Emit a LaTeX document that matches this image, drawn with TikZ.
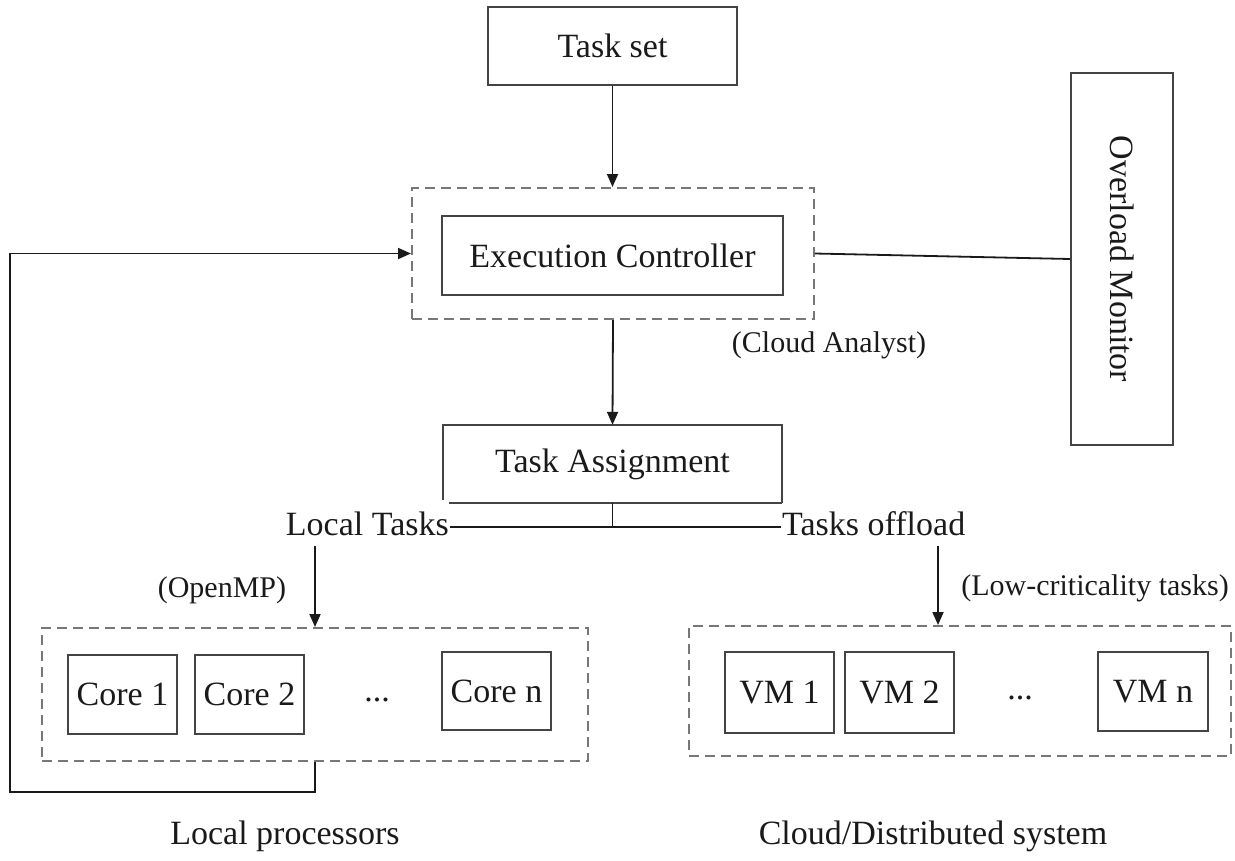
\documentclass[tikz,border=0pt]{standalone}
\usepackage{fontspec}
\setmainfont{Liberation Serif}
\usetikzlibrary{arrows.meta,calc}
\definecolor{edgegray}{HTML}{444444}
\definecolor{dashgray}{HTML}{777777}
\definecolor{inkgray}{HTML}{1A1A1A}
\tikzset{
  big/.style={font=\fontsize{34}{39}\selectfont, text=inkgray},
  small/.style={font=\fontsize{30}{34}\selectfont, text=inkgray},
  blk/.style={draw=edgegray, line width=1.8pt, rectangle, inner sep=0pt, big},
  grp/.style={draw=dashgray, line width=2pt, dash pattern=on 10pt off 6pt, rectangle, inner sep=0pt},
  lbl/.style={inner sep=0pt},
  wire/.style={draw=inkgray, line width=1.8pt},
  edge/.style={draw=edgegray, line width=1.8pt},
  arr/.style={wire, -{Triangle[length=13pt,width=11pt]}},
}
\begin{document}
\begin{tikzpicture}[x=1pt,y=-1pt]
\useasboundingbox (0,0) rectangle (1235,860);

% top chain
\node[blk, minimum width=249pt, minimum height=78pt] (taskset) at (612.5,46) {Task set};
\node[grp, minimum width=402pt, minimum height=131pt] (ecdash) at (613,253.5) {};
\node[blk, minimum width=341pt, minimum height=79pt] (ec) at (612.5,255.5) {Execution Controller};
\node[small, lbl] (analyst) at (829,345) {(Cloud Analyst)};
\node[blk, minimum width=102pt, minimum height=372pt] (overload) at (1122,259) {};
\node[big, rotate=-90] (overloadtxt) at (overload.center) {Overload Monitor};

% task assignment box: its left side stops just short of the bottom rule
\node[big, inner sep=0pt, minimum width=339pt, minimum height=78pt] (ta) at (612.5,464) {Task Assignment};
\draw[edge] ([yshift=3pt]ta.south west) -- (ta.north west) -- (ta.north east) -- (ta.south east);
\draw[edge] ([xshift=6pt]ta.south west) -- (ta.south east);

% split of the task stream
\coordinate (jn) at (612.5,527);
\node[big, lbl, anchor=base east] (localtasks) at (449,535) {Local Tasks};
\node[big, lbl, anchor=base west] (offload) at (782,535) {Tasks offload};

% local processors group
\node[grp, minimum width=546pt, minimum height=133pt] (lbox) at (315,694.5) {};
\node[blk, minimum width=109pt, minimum height=79pt] (core1) at (122.5,694.5) {Core 1};
\node[blk, minimum width=109pt, minimum height=79pt] (core2) at (249.5,694.5) {Core 2};
\node[big, lbl] (cdots) at (377,700) {...};
\node[blk, minimum width=109pt, minimum height=78pt] (coren) at (496.5,691) {Core n};
\node[small, lbl] (openmp) at (222,590) {(OpenMP)};
\node[big, lbl] (localproc) at (285,836) {Local processors};

% cloud group
\node[grp, minimum width=542pt, minimum height=130pt] (cbox) at (960,691) {};
\node[blk, minimum width=109pt, minimum height=81pt] (vm1) at (779.5,692.5) {VM 1};
\node[blk, minimum width=109pt, minimum height=81pt] (vm2) at (899.5,692.5) {VM 2};
\node[big, lbl] (vdots) at (1020,698) {...};
\node[blk, minimum width=110pt, minimum height=79pt] (vmn) at (1153,691.5) {VM n};
\node[small, lbl] (lowcrit) at (1095,588) {(Low-criticality tasks)};
\node[big, lbl] (cloudsys) at (933,836) {Cloud/Distributed system};

% connectors
\draw[arr] (taskset.south) -- (taskset.south |- ecdash.north);
\draw[wire] (ecdash.east) -- (overload.west);
\draw[arr] (ecdash.south) -- (ta.north);
\draw[wire] (ta.south) -- (jn);
\draw[wire] ([xshift=1pt]localtasks.east |- jn) -- ([xshift=-1pt]offload.west |- jn);
\draw[arr] ([yshift=-10pt]localtasks.south -| lbox.north) -- (lbox.north);
\path (cbox.north west) ++(250,0) coordinate (oin);
\draw[arr] ([yshift=-10pt]offload.south -| oin) -- (oin);
\coordinate (loop) at (10,792);
\draw[arr] (lbox.south) |- (loop) |- (ecdash.west);
\end{tikzpicture}
\end{document}
